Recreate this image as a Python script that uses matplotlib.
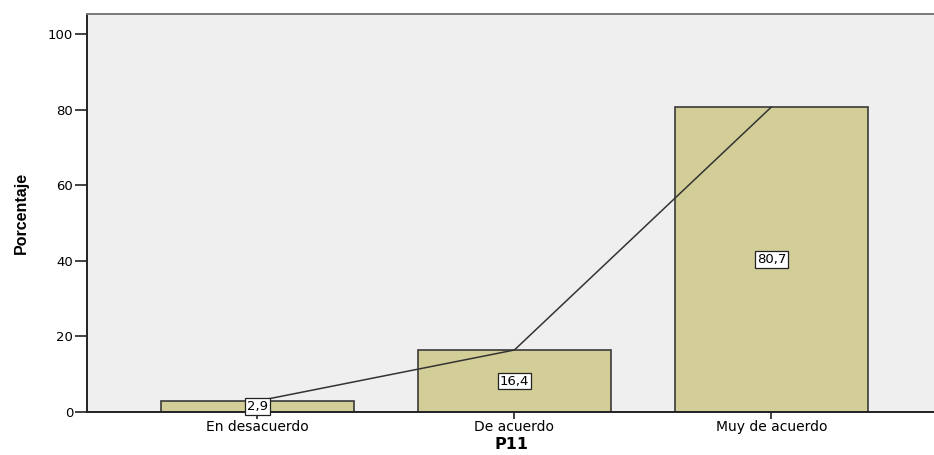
import matplotlib
matplotlib.use('Agg')
import matplotlib.pyplot as plt

categories = ['En desacuerdo', 'De acuerdo', 'Muy de acuerdo']
percentages = [2.9, 16.4, 80.7]
labels = ['2,9', '16,4', '80,7']
yticks = [0, 20, 40, 60, 80, 100]

plt.rcParams['font.family'] = ['DejaVu Sans']

fig = plt.figure(figsize=(9.34, 4.55), dpi=100)
ax = fig.add_axes([87 / 934, 43 / 455, 1 - 87 / 934 + 0.002, 398 / 455])
ax.set_facecolor('#efefef')

x = list(range(len(categories)))
ax.bar(x, percentages, width=0.75, color='#d3ce97', edgecolor='#3a3a3a', linewidth=1.2, zorder=2)
ax.plot(x, percentages, color='#333333', linewidth=1.1, zorder=3)

for xi, v, lab in zip(x, percentages, labels):
    ax.text(xi, v / 2, lab, ha='center', va='center', fontsize=9.5, zorder=4,
            bbox=dict(boxstyle='square,pad=0.15', facecolor='white', edgecolor='#222222', linewidth=0.9))

ax.set_xlim(-0.663, 2.64)
ax.set_ylim(0, 105.3)
ax.set_xticks(x)
ax.set_xticklabels(categories, fontsize=10)
ax.set_yticks(yticks)
ax.set_yticklabels([str(t) for t in yticks], fontsize=9.5)
ax.tick_params(axis='x', direction='out', length=5, width=1.2, color='#222222', pad=1)
ax.tick_params(axis='y', direction='out', length=9, width=1.2, color='#222222', pad=1)

for side in ['left', 'bottom']:
    ax.spines[side].set_color('#222222')
    ax.spines[side].set_linewidth(1.4)
ax.spines['top'].set_color('#777777')
ax.spines['top'].set_linewidth(1.4)
ax.spines['right'].set_visible(False)

ax.set_xlabel('P11', fontsize=11.5, fontweight='bold', labelpad=2)
ax.set_ylabel('Porcentaje', fontsize=11.5, fontweight='bold', labelpad=14,
              family=['Liberation Sans Narrow', 'Liberation Sans'])

fig.savefig('out.png', dpi=100)
